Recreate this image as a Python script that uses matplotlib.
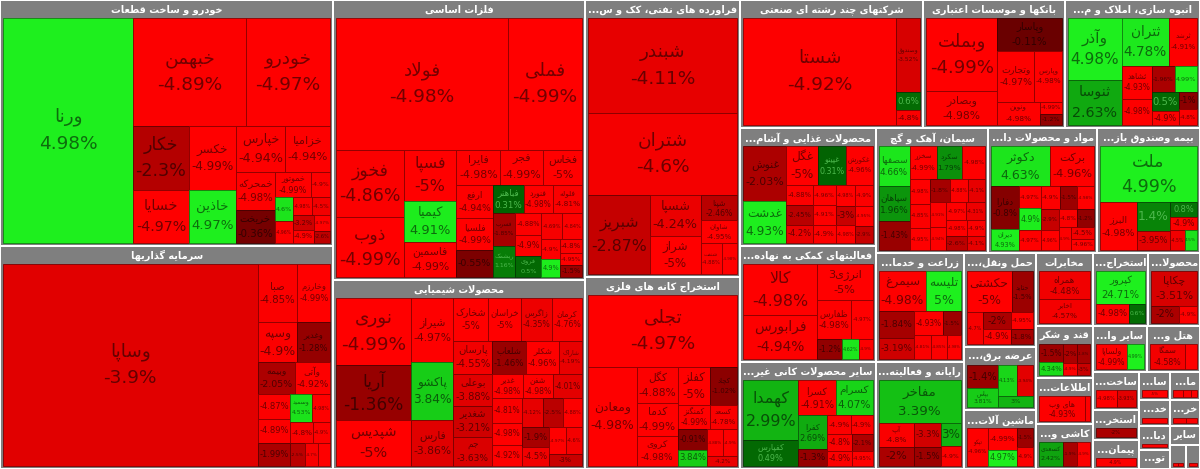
import matplotlib
matplotlib.use('Agg')
import matplotlib.pyplot as plt
from matplotlib.patches import Rectangle
from matplotlib.textpath import TextPath
from matplotlib.font_manager import FontProperties

# ---------------- data: (symbol, change %, size) ----------------
khodro = [('ورنا', 4.98, 29154), ('خبهمن', -4.89, 12204), ('خودرو', -4.97, 9072), ('خکار', -2.3, 3520),
          ('خسایا', -4.97, 2970), ('خکسر', -4.99, 2944), ('خاذین', 4.97, 2484), ('خپارس', -4.94, 2250),
          ('خزامیا', -4.94, 2025), ('خمحرکه', -4.98, 1521), ('خریخت', -0.36, 1292), ('خموتور', -4.99, 900),
          ('', -4.9, 500), ('', 4.6, 420), ('', -4.96, 380), ('', -4.98, 350), ('', -4.5, 330),
          ('', -3.2, 300), ('', -4.9, 280), ('', -4.97, 250), ('', -2.6, 200)]
sarmaye = [('وساپا', -3.9, 51106), ('صبا', -4.85, 2280), ('وخارزم', -4.99, 1880), ('وسپه', -4.9, 1600),
           ('وغدیر', -1.28, 1320), ('وبیمه', -2.05, 1150), ('وآتی', -4.92, 1116), ('', -4.87, 800),
           ('', -4.89, 800), ('', -1.99, 740), ('وسمید', 4.53, 600), ('', -4.98, 520), ('', -4.8, 480),
           ('', -4.9, 350), ('', -2.5, 320), ('', -4.7, 300), ('', -4.95, 280)]
felezat = [('فولاد', -4.98, 22572), ('فملی', -4.99, 9768), ('فخوز', -4.86, 4556), ('ذوب', -4.99, 4020),
           ('فسپا', -5.0, 2652), ('کیمیا', 4.91, 2184), ('فاسمین', -4.99, 1820), ('فایرا', -4.98, 1540),
           ('فجر', -4.99, 1505), ('فخاس', -5.0, 1365), ('ارفع', -4.94, 1188), ('فلسیا', -4.99, 1188),
           ('', -0.55, 972), ('فباهنر', 0.31, 864), ('فنورد', -4.98, 840), ('فلوله', -4.81, 819),
           ('فسرب', -1.85, 729), ('ریشمک', 1.16, 700), ('', -4.88, 567), ('', -4.9, 546), ('فروی', 0.5, 540),
           ('', -4.69, 540), ('', -4.84, 525), ('', -4.9, 357), ('', 4.9, 336), ('', -4.8, 300),
           ('', -4.95, 280), ('', -1.5, 260)]
shimiaei = [('نوری', -4.99, 4891), ('آریا', -1.36, 3942), ('شپدیس', -5.0, 3358), ('شیراز', -4.97, 2624),
            ('پاکشو', 3.84, 2337), ('فارس', -3.86, 1886), ('شخارک', -5.0, 1440), ('خراسان', -5.0, 1360),
            ('زاگرس', -4.35, 1260), ('کرمان', -4.76, 1260), ('پارسان', -4.55, 1240), ('بوعلی', -3.88, 1200),
            ('شغدیر', -3.21, 1190), ('جم', -3.63, 1085), ('شلعاب', -1.46, 1080), ('شکلر', -4.96, 1050),
            ('شاراک', -4.19, 740), ('غدیر', -4.98, 730), ('شفن', -4.98, 720), ('', -4.01, 700),
            ('', -4.81, 700), ('', -4.98, 650), ('', -4.92, 600), ('', -4.12, 580), ('', -2.5, 560),
            ('', -4.88, 540), ('', -1.9, 520), ('', -4.5, 480), ('', -4.97, 450), ('', -4.6, 420),
            ('', -3.0, 380)]
faravarde = [('شبندر', -4.11, 14250), ('شتران', -4.6, 12450), ('شبریز', -2.87, 4898), ('شسپا', -4.24, 2091),
             ('شراز', -5.0, 1938), ('شپنا', -2.46, 925), ('شاوان', -4.95, 851), ('شنفت', -4.88, 651),
             ('', -4.98, 496)]
kane = [('تجلی', -4.97, 10800), ('ومعادن', -4.98, 4800), ('کگل', -4.88, 1476), ('کدما', -4.99, 1394),
        ('کروی', -4.98, 1230), ('کفلز', -5.0, 1224), ('کچاد', -1.02, 1026), ('کمنگنز', -4.99, 782),
        ('کسعد', -4.78, 690), ('', -0.91, 600), ('', 3.84, 480), ('', -4.88, 420), ('', -4.9, 380),
        ('', -4.2, 300)]
chand = [('شستا', -4.92, 16632), ('وصندوق', -3.52, 1800), ('', 0.6, 432), ('', -4.8, 360)]
bank = [('وبملت', -4.99, 5300), ('وبصادر', -4.98, 2500), ('وپاسار', -0.11, 2170), ('وتجارت', -4.97, 1922),
        ('وپارس', -4.98, 1472), ('ونوین', -4.98, 1020), ('', -4.99, 288), ('', -1.2, 256)]
anboh = [('وآذر', 4.98, 3348), ('ثنوسا', 2.63, 2484), ('ثتران', 4.78, 2304), ('ثرشد', -4.91, 1344),
         ('ثشاهد', -4.93, 999), ('', -4.98, 812), ('', -1.96, 621), ('', 4.99, 609), ('', 0.5, 527),
         ('', -4.9, 390), ('', -1.0, 306), ('', -4.8, 290)]
ghazaei = [('غنوش', -2.03, 2420), ('غدشت', 4.93, 1848), ('غگل', -5.0, 1248), ('غپینو', 0.31, 1092),
           ('غکورش', -4.96, 1053), ('', -4.88, 560), ('', -2.45, 520), ('', -4.2, 500), ('', -4.96, 480),
           ('', -4.91, 450), ('', -4.9, 430), ('', -4.98, 420), ('', -4.9, 400), ('', -3.0, 380),
           ('', -4.98, 360), ('', -4.95, 340), ('', -2.9, 310)]
komaki = [('کالا', -4.98, 3723), ('فرابورس', -4.94, 3212), ('انرژی3', -5.0, 1980), ('ظفارس', -4.98, 1326),
          ('', -4.97, 819), ('', -1.2, 500), ('', 4.62, 340), ('', -4.9, 260)]
kani = [('کهمدا', 2.99, 3294), ('کفپارس', 0.49, 1444), ('کسرا', -4.91, 1330), ('کسرام', 4.07, 1296),
        ('کفرا', 2.69, 988), ('', -1.3, 480), ('', -4.9, 450), ('', -4.9, 420), ('', -4.8, 400),
        ('', -4.9, 380), ('', -2.1, 350), ('', -4.95, 320)]
siman = [('سصفها', 4.66, 1240), ('سپاهان', 1.96, 1085), ('', -1.43, 899), ('سخزر', -4.99, 891),
         ('سکرد', 1.79, 825), ('', -4.98, 759), ('', -4.98, 520), ('', -4.85, 480), ('', -4.95, 470),
         ('', -1.8, 460), ('', -4.88, 430), ('', -4.1, 410), ('', -4.91, 400), ('', -4.94, 380),
         ('', -4.97, 360), ('', -4.31, 340), ('', -4.98, 320), ('', -2.6, 300), ('', -4.9, 290),
         ('', -4.1, 270)]
darou = [('دکوثر', 4.63, 2378), ('برکت', -4.96, 1804), ('دفارا', -0.8, 1215), ('دیران', 4.93, 600),
         ('', -4.97, 500), ('', 4.9, 480), ('', -4.97, 460), ('', -4.9, 440), ('', -1.5, 420),
         ('', -4.98, 400), ('', -2.9, 380), ('', -4.96, 360), ('', -4.8, 340), ('', -1.2, 320),
         ('', -4.9, 300), ('', -4.5, 280), ('', -4.96, 260)]
bime = [('ملت', 4.99, 5376), ('البرز', -4.98, 1776), ('', 1.4, 957), ('', -3.95, 627), ('', 0.8, 390),
        ('', -4.9, 364), ('', -4.5, 300), ('', 4.5, 250)]
zeraat = [('سیمرغ', -4.98, 1880), ('تلیسه', 5.0, 1360), ('', -1.84, 928), ('', -3.19, 725), ('', -4.93, 696),
          ('', -1.5, 420), ('', -4.81, 400), ('', -4.85, 380), ('', -4.98, 330)]
rayane = [('مفاخر', 3.39, 3402), ('آپ', -4.8, 805), ('', -2.0, 665), ('', -3.3, 621), ('', -1.5, 500),
          ('', 3.0, 437), ('', -4.9, 380)]
haml = [('حکشتی', -5.0, 1848), ('حتاید', -1.5, 882), ('', -4.7, 520), ('', -2.0, 480), ('', -4.9, 420),
        ('', -4.95, 380), ('', -1.8, 340)]
bargh = [('', -1.4, 690), ('بپاس', 3.81, 570), ('', 4.13, 540), ('', -3.94, 480), ('', 3.0, 380)]
mashin = [('تپکو', -4.96, 800), ('', -4.99, 600), ('', 4.97, 450), ('', -1.5, 300), ('', -4.9, 300)]
mokhaberat = [('همراه', -4.48, 1296), ('اخابر', -4.57, 1104)]
naft = [('کپرور', 24.71, 1440), ('', -4.98, 576), ('', 0.6, 288)]
kaghaz = [('چکاپا', -3.51, 1440), ('', -2.0, 430), ('', -4.9, 290)]
ghand = [('', -1.5, 560), ('', 4.34, 400), ('', -2.0, 350), ('', -1.8, 300), ('', -4.9, 220), ('', -3.0, 200)]
ettelaat = [('های وب', -4.93, 1350), ('', -4.9, 150)]
kashi = [('کسعدی', 2.42, 550), ('', -1.9, 320), ('', -4.9, 300)]
vasete = [('ولساپا', -4.99, 600), ('', 4.99, 330)]
hotel = [('سمگا', -4.58, 620), ('', -4.99, 220)]
felezi = [('', -4.98, 420), ('', -3.93, 380)]
dastgah = [('', -5.0, 300)]
barghi = [('', -4.9, 150), ('', -4.8, 120), ('', -4.9, 100)]
maaden = [('', -2.0, 400)]
fanni = [('', -4.9, 200)]
khorde = [('', -4.7, 120), ('', -4.9, 100)]
peymankari = [('', -4.9, 350)]
dabbaghi = [('', -4.9, 150)]
computer = [('', -4.8, 100)]
sayer1 = [('', -4.9, 100)]
sayer2 = [('', -4.9, 60), ('', -4.8, 50)]
sayer3 = [('', -4.9, 60)]

sector_names = ['خودرو و ساخت قطعات', 'سرمایه گذاریها', 'فلزات اساسی', 'محصولات شیمیایی',
                'فراورده های نفتی، کک و سوخت هسته ای', 'استخراج کانه های فلزی', 'شرکتهای چند رشته ای صنعتی',
                'بانکها و موسسات اعتباری', 'انبوه سازی، املاک و مستغلات', 'محصولات غذایی و آشامیدنی به جز قند و شکر',
                'فعالیتهای کمکی به نهادهای مالی واسط', 'سایر محصولات کانی غیرفلزی', 'سیمان، آهک و گچ',
                'مواد و محصولات دارویی', 'بیمه وصندوق بازنشستگی به جزتامین اجتماعی', 'زراعت و خدمات وابسته',
                'رایانه و فعالیتهای وابسته به آن', 'حمل ونقل، انبارداری و ارتباطات', 'عرضه برق، گاز، بخاروآب گرم',
                'ماشین آلات و تجهیزات', 'مخابرات', 'استخراج نفت گاز و خدمات جنبی جز اکتشاف', 'محصولات کاغذی',
                'قند و شکر', 'اطلاعات و ارتباطات', 'کاشی و سرامیک', 'سایر واسطه گریهای مالی', 'هتل و رستوران',
                'ساخت محصولات فلزی', 'استخراج سایر معادن', 'پیمانکاری صنعتی', 'ساخت دستگاهها و وسایل ارتباطی',
                'ماشین آلات و دستگاههای برقی', 'خدمات فنی و مهندسی', 'خرده فروشی،باستثنای وسایل نقلیه موتوری',
                'دباغی، پرداخت چرم و ساخت انواع پاپوش', 'تولید محصولات کامپیوتری الکترونیکی ونوری',
                'سایر', 'سایر', 'سایر']
sector_values = [81918, 74259, 70560, 47628, 42935, 29760, 23424, 18176, 17280, 15930,
                 15660, 14445, 14125, 13625, 12875, 9592, 9416, 6768, 4536, 4248,
                 4104, 4032, 3744, 2964, 2600, 2520, 2500, 2440, 1748, 1380,
                 1334, 896, 840, 800, 750, 740, 600, 580, 400, 340]
sector_tiles = [khodro, sarmaye, felezat, shimiaei, faravarde, kane, chand, bank, anboh, ghazaei,
                komaki, kani, siman, darou, bime, zeraat, rayane, haml, bargh, mashin,
                mokhaberat, naft, kaghaz, ghand, ettelaat, kashi, vasete, hotel, felezi, maaden,
                peymankari, dastgah, barghi, fanni, khorde, dabbaghi, computer, sayer1, sayer2, sayer3]

W, H = 1200, 469

# ---------------- persian shaping (matplotlib has no bidi / joining) ----------------
AR = {
    'ء': ('\uFE80',), 'آ': ('\uFE81', '\uFE82'), 'أ': ('\uFE83', '\uFE84'), 'ؤ': ('\uFE85', '\uFE86'),
    'إ': ('\uFE87', '\uFE88'), 'ئ': ('\uFE89', '\uFE8A', '\uFE8B', '\uFE8C'), 'ا': ('\uFE8D', '\uFE8E'),
    'ب': ('\uFE8F', '\uFE90', '\uFE91', '\uFE92'), 'ة': ('\uFE93', '\uFE94'),
    'ت': ('\uFE95', '\uFE96', '\uFE97', '\uFE98'), 'ث': ('\uFE99', '\uFE9A', '\uFE9B', '\uFE9C'),
    'ج': ('\uFE9D', '\uFE9E', '\uFE9F', '\uFEA0'), 'ح': ('\uFEA1', '\uFEA2', '\uFEA3', '\uFEA4'),
    'خ': ('\uFEA5', '\uFEA6', '\uFEA7', '\uFEA8'), 'د': ('\uFEA9', '\uFEAA'), 'ذ': ('\uFEAB', '\uFEAC'),
    'ر': ('\uFEAD', '\uFEAE'), 'ز': ('\uFEAF', '\uFEB0'), 'س': ('\uFEB1', '\uFEB2', '\uFEB3', '\uFEB4'),
    'ش': ('\uFEB5', '\uFEB6', '\uFEB7', '\uFEB8'), 'ص': ('\uFEB9', '\uFEBA', '\uFEBB', '\uFEBC'),
    'ض': ('\uFEBD', '\uFEBE', '\uFEBF', '\uFEC0'), 'ط': ('\uFEC1', '\uFEC2', '\uFEC3', '\uFEC4'),
    'ظ': ('\uFEC5', '\uFEC6', '\uFEC7', '\uFEC8'), 'ع': ('\uFEC9', '\uFECA', '\uFECB', '\uFECC'),
    'غ': ('\uFECD', '\uFECE', '\uFECF', '\uFED0'), 'ف': ('\uFED1', '\uFED2', '\uFED3', '\uFED4'),
    'ق': ('\uFED5', '\uFED6', '\uFED7', '\uFED8'), 'ك': ('\uFED9', '\uFEDA', '\uFEDB', '\uFEDC'),
    'ل': ('\uFEDD', '\uFEDE', '\uFEDF', '\uFEE0'), 'م': ('\uFEE1', '\uFEE2', '\uFEE3', '\uFEE4'),
    'ن': ('\uFEE5', '\uFEE6', '\uFEE7', '\uFEE8'), 'ه': ('\uFEE9', '\uFEEA', '\uFEEB', '\uFEEC'),
    'و': ('\uFEED', '\uFEEE'), 'ى': ('\uFEEF', '\uFEF0'), 'ي': ('\uFEF1', '\uFEF2', '\uFEF3', '\uFEF4'),
    'پ': ('\uFB56', '\uFB57', '\uFB58', '\uFB59'), 'چ': ('\uFB7A', '\uFB7B', '\uFB7C', '\uFB7D'),
    'ژ': ('\uFB8A', '\uFB8B'), 'ک': ('\uFB8E', '\uFB8F', '\uFB90', '\uFB91'),
    'گ': ('\uFB92', '\uFB93', '\uFB94', '\uFB95'), 'ی': ('\uFBFC', '\uFBFD', '\uFBFE', '\uFBFF'),
}
LAMALEF = {'ا': ('\uFEFB', '\uFEFC'), 'آ': ('\uFEF5', '\uFEF6'), 'أ': ('\uFEF7', '\uFEF8'), 'إ': ('\uFEF9', '\uFEFA')}


def shape(s):
    out = []
    prev_dual = False
    i = 0
    while i < len(s):
        c = s[i]
        if c not in AR:
            out.append(c)
            prev_dual = False
            i += 1
            continue
        f = AR[c]
        if c == 'ل' and i + 1 < len(s) and s[i + 1] in LAMALEF:
            out.append(LAMALEF[s[i + 1]][1 if prev_dual else 0])
            prev_dual = False
            i += 2
            continue
        nxt = s[i + 1] if i + 1 < len(s) else ''
        cp = prev_dual and len(f) > 1
        cn = len(f) == 4 and nxt in AR and len(AR[nxt]) > 1
        if cp and cn:
            g = f[3]
        elif cp:
            g = f[1]
        elif cn:
            g = f[2]
        else:
            g = f[0]
        out.append(g)
        prev_dual = len(f) == 4
        i += 1
    return out


def rtl(s):
    runs = []
    for ch in shape(s):
        ltr = ch.isascii() and (ch.isalnum() or ch in '.%')
        if runs and ltr and runs[-1][0]:
            runs[-1][1] += ch
        else:
            runs.append([ltr, ch])
    return ''.join(r[1] for r in reversed(runs))


# ---------------- squarified layout ----------------
def layout(sizes, x, y, dx, dy):
    rects = []
    if dx >= dy:
        width = sum(sizes) / dy
        for s in sizes:
            rects.append((x, y, width, s / width))
            y += s / width
    else:
        height = sum(sizes) / dx
        for s in sizes:
            rects.append((x, y, s / height, height))
            x += s / height
    return rects


def leftover(sizes, x, y, dx, dy):
    if dx >= dy:
        width = sum(sizes) / dy
        return x + width, y, dx - width, dy
    height = sum(sizes) / dx
    return x, y + height, dx, dy - height


def worst(sizes, x, y, dx, dy):
    return max(max(w / h, h / w) for (_, _, w, h) in layout(sizes, x, y, dx, dy))


def squarify(sizes, x, y, dx, dy):
    if not sizes:
        return []
    if len(sizes) == 1:
        return layout(sizes, x, y, dx, dy)
    i = 1
    while i < len(sizes) and worst(sizes[:i], x, y, dx, dy) >= worst(sizes[:i + 1], x, y, dx, dy):
        i += 1
    return layout(sizes[:i], x, y, dx, dy) + squarify(sizes[i:], *leftover(sizes[:i], x, y, dx, dy))


def treemap(values, x, y, dx, dy):
    tot = sum(values)
    return squarify([v * dx * dy / tot for v in values], x, y, dx, dy)


# ---------------- colours ----------------
def tile_color(p):
    t = min(abs(p) / 5.0, 1.0)
    if p < 0:
        return ((100 + 155 * t ** 0.85) / 255, 0, 0)
    return (30 * t / 255, (90 + 150 * t) / 255, 30 * t / 255)


def text_color(p):
    c = tile_color(p)
    if p > 0 and p < 1.5:
        return (0.3, 0.72, 0.3)
    return tuple(v * 0.45 for v in c)


fp = FontProperties(family='DejaVu Sans')
fpb = FontProperties(family='DejaVu Sans', weight='bold')
_cache = {}


def em_width(s, prop):
    key = (s, prop.get_weight())
    if key not in _cache:
        _cache[key] = TextPath((0, 0), s, size=1, prop=prop).get_extents().width if s else 0
    return _cache[key]


PX = 72 / 100.0  # points per pixel

fig = plt.figure(figsize=(12, 4.69), dpi=100)
ax = fig.add_axes([0, 0, 1, 1])
ax.set_xlim(0, W)
ax.set_ylim(H, 0)
ax.axis('off')

order = sorted(range(len(sector_values)), key=lambda k: -sector_values[k])
srects = treemap([sector_values[k] for k in order], 0, 0, W, H)

for k, (x, y, w, h) in zip(order, srects):
    ax.add_patch(Rectangle((x + 1, y + 1), w - 2, h - 2, facecolor='#7f7f7f', edgecolor='none'))
    # header, truncated with "..." like the original
    name = sector_names[k]
    hfs = 7.0
    avail = (w - 6) / (hfs / PX)
    label = rtl(name)
    if em_width(label, fpb) > avail:
        label = ''
        for n in range(len(name) - 1, 1, -1):
            cand = '...' + rtl(name[:n].rstrip())
            if em_width(cand, fpb) <= avail:
                label = cand
                break
    if label:
        ax.text(x + w / 2, y + 9.5, label, color='white', fontproperties=fpb, fontsize=hfs,
                ha='center', va='center')

    tiles = sorted(sector_tiles[k], key=lambda t: -t[2])
    cx, cy, cw, ch = x + 3, y + 18, w - 6, h - 21
    if ch < 2:
        continue
    trects = treemap([t[2] for t in tiles], cx, cy, cw, ch)
    for (sym, pct, _), (tx, ty, tw, th) in zip(tiles, trects):
        col = tile_color(pct)
        ax.add_patch(Rectangle((tx, ty), tw, th, facecolor=col,
                               edgecolor=tuple(v * 0.55 for v in col), linewidth=0.6))
        ptxt = f'{pct:g}%'
        ntxt = rtl(sym) if sym else ''
        ew = max(em_width(ptxt, fp), em_width(ntxt, fp) * 1.05)
        lines = 2 if ntxt else 1
        fs_px = min(18.5, 0.88 * tw / ew, th / (1.45 * lines + 0.3))
        if fs_px < 3.2:
            continue
        tc = text_color(pct)
        mx, my = tx + tw / 2, ty + th / 2
        if ntxt:
            ax.text(mx, my - 0.72 * fs_px, ntxt, fontproperties=fp, fontsize=fs_px * PX,
                    color=tc, ha='center', va='center')
            ax.text(mx, my + 0.72 * fs_px, ptxt, fontproperties=fp, fontsize=fs_px * PX,
                    color=tc, ha='center', va='center')
        else:
            ax.text(mx, my, ptxt, fontproperties=fp, fontsize=fs_px * PX,
                    color=tc, ha='center', va='center')

fig.savefig('out.png', dpi=100, facecolor='white')
